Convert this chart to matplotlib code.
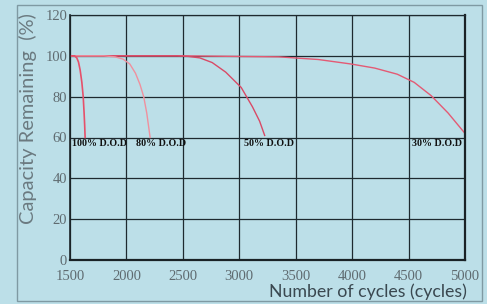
import matplotlib.pyplot as plt
from matplotlib.patches import Rectangle

# Données
cyc_100 = [1500, 1540, 1560, 1575, 1590, 1605, 1617, 1625, 1630, 1634]
cap_100 = [100, 100, 99, 97, 93, 87, 80, 72, 66, 60]
cyc_80 = [1500, 1800, 1900, 1970, 2030, 2080, 2120, 2153, 2180, 2200, 2210]
cap_80 = [100, 100, 99.5, 98.4, 96, 91.5, 86, 80, 72, 64, 60]
cyc_50 = [1500, 2450, 2550, 2650, 2760, 2880, 3017, 3117, 3180, 3225]
cap_50 = [100, 100, 99.7, 99, 96.7, 92, 84.5, 75, 68, 61]
cyc_30 = [1500, 2500, 3000, 3350, 3700, 3990, 4200, 4400, 4550, 4700, 4850, 5000]
cap_30 = [100, 100, 99.7, 99.5, 98.2, 96, 94, 91, 87, 80.5, 72, 62]

labels = ["100% D.O.D", "80% D.O.D", "50% D.O.D", "30% D.O.D"]
label_x = [1515, 2083, 3040, 4530]

xticks = [1500, 2000, 2500, 3000, 3500, 4000, 4500, 5000]
yticks = [0, 20, 40, 60, 80, 100, 120]

bg = '#bcdfe8'
fig = plt.figure(figsize=(4.87, 3.04), dpi=100, facecolor=bg)
ax = fig.add_axes([70/487, 1-260/304, 395/487, 245/304])
ax.set_facecolor(bg)

# cadre extérieur
fig.patches.append(Rectangle((17/487, 3/304), 465/487, 296/304, transform=fig.transFigure,
                             fill=False, edgecolor='#7f9aa3', linewidth=1.0))

ax.plot(cyc_30, cap_30, color='#e45a74', lw=1.0)
ax.plot(cyc_50, cap_50, color='#d94a66', lw=1.0)
ax.plot(cyc_80, cap_80, color='#f0909e', lw=1.0)
ax.plot(cyc_100, cap_100, color='#e6506a', lw=1.2)

for txt, x in zip(labels, label_x):
    ax.text(x, 59.3, txt, fontsize=7.2, fontweight='bold', family='Liberation Serif',
            color='#111111', ha='left', va='top')

ax.set_xlim(1500, 5000)
ax.set_ylim(0, 120)
ax.set_xticks(xticks)
ax.set_yticks(yticks)
ax.grid(True, color='#1e2a30', linewidth=0.9)
ax.tick_params(length=0, pad=2, labelcolor='#5f6b70')
for lab in ax.get_xticklabels() + ax.get_yticklabels():
    lab.set_family('Liberation Serif')
    lab.set_fontsize(10.5)
ax.tick_params(axis='x', pad=7)

for side in ['left', 'bottom', 'right']:
    ax.spines[side].set_color('#1a2226')
    ax.spines[side].set_linewidth(1.6)
ax.spines['top'].set_color('#1e2a30')
ax.spines['top'].set_linewidth(0.9)
ax.spines['left'].set_linewidth(1.2)

fig.text(28/487, 1-119/304, "Capacity Remaining  (%)", rotation=90, ha='center', va='center',
         family='Lato', fontsize=14.5, color='#6b7a80')
fig.text(467/487, 1-292/304, "Number of cycles (cycles)", ha='right', va='center',
         family='Lato', fontsize=12.8, color='#3a4850')

fig.savefig('out.png', dpi=100, facecolor=bg)
